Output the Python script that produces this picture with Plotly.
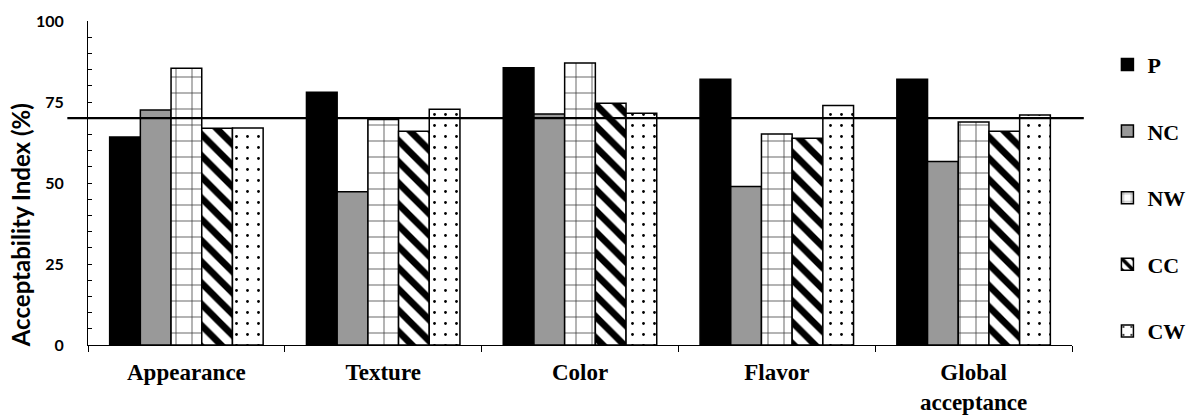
import plotly.graph_objects as go

# Sensory attributes and acceptability index (%) for each formulation
categories = ["Appearance", "Texture", "Color", "Flavor", "Global<br>acceptance"]
series_names = ["P", "NC", "NW", "CC", "CW"]
p_vals = [64.2, 78.0, 85.6, 82.0, 82.0]
nc_vals = [72.5, 47.3, 71.3, 48.9, 56.6]
nw_vals = [85.4, 69.6, 87.0, 65.1, 68.8]
cc_vals = [66.9, 66.0, 74.6, 63.8, 66.0]
cw_vals = [67.0, 72.8, 71.5, 73.9, 71.0]
threshold = 70
y_range = [0, 100]
y_ticks = [0, 25, 50, 75, 100]
y_title = "Acceptability Index (%)"

series_values = [p_vals, nc_vals, nw_vals, cc_vals, cw_vals]

styles = {
    "P": dict(color="black", pattern=None),
    "NC": dict(color="#999999", pattern=None),
    "NW": dict(color="white", pattern=dict(shape="+", size=16, solidity=0.09,
                                           fgcolor="black", bgcolor="white",
                                           fgopacity=0.8, fillmode="overlay")),
    "CC": dict(color="white", pattern=dict(shape="\\", size=15, solidity=0.45,
                                           fgcolor="black", bgcolor="white",
                                           fgopacity=1, fillmode="overlay")),
    "CW": dict(color="white", pattern=dict(shape=".", size=11, solidity=0.05,
                                           fgcolor="black", bgcolor="white",
                                           fgopacity=1, fillmode="overlay")),
}

fig = go.Figure()
for name, vals in zip(series_names, series_values):
    st = styles[name]
    marker = dict(color=st["color"], line=dict(color="black", width=1.5))
    if st["pattern"] is not None:
        marker["pattern"] = st["pattern"]
    fig.add_trace(go.Bar(
        x=categories, y=vals, name=name, marker=marker,
        legendgroup=name,
    ))

# Acceptability threshold line, running a little past both ends of the axis
thr_frac = (threshold - y_range[0]) / (y_range[1] - y_range[0])
fig.add_shape(type="line", xref="paper", yref="paper",
              x0=-0.021, x1=1.012, y0=thr_frac, y1=thr_frac,
              line=dict(color="black", width=2.2))

# Vertical y-axis title, set slightly below the middle of the axis
fig.add_annotation(text=f"<b>{y_title}</b>", textangle=-90,
                   xref="paper", yref="paper", x=-0.069, y=0.37,
                   xanchor="center", yanchor="middle", showarrow=False,
                   font=dict(family="Lato", size=24, color="black"))

fig.update_layout(
    width=1193, height=418,
    margin=dict(l=88, r=121, t=21, b=73, autoexpand=False),
    paper_bgcolor="white", plot_bgcolor="white",
    barmode="group", bargap=0.22, bargroupgap=0,
    showlegend=True,
    legend=dict(
        x=1.036, y=0.93, xanchor="left", yanchor="top",
        font=dict(family="Liberation Serif", size=22, color="black", weight="bold"),
        tracegroupgap=35, itemwidth=30, borderwidth=0,
        bgcolor="rgba(0,0,0,0)",
    ),
    xaxis=dict(
        showline=True, linecolor="black", linewidth=1,
        ticks="outside", tickson="boundaries", ticklen=6, tickcolor="black",
        tickfont=dict(family="Liberation Serif", size=23, color="black", weight="bold"),
        ticklabelstandoff=6, automargin=False,
        showgrid=False,
    ),
    yaxis=dict(
        range=y_range, tickvals=y_ticks,
        showline=True, linecolor="black", linewidth=1,
        ticks="inside", ticklen=4, tickcolor="black",
        minor=dict(dtick=5, ticks="inside", ticklen=4, tickcolor="black"),
        tickfont=dict(family="Lato", size=16, color="black", weight="bold"),
        ticklabelstandoff=20, automargin=False,
        showgrid=False, zeroline=False,
    ),
)

fig.write_html("out.html")
